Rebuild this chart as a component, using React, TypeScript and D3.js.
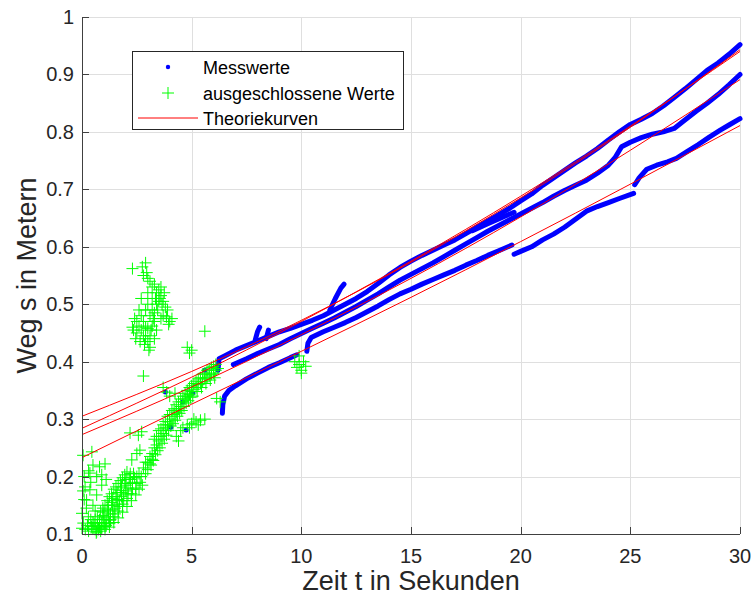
import React from 'react';
import * as d3 from 'd3';

type P = [number, number];

const xTicks = [0, 5, 10, 15, 20, 25, 30];
const xTickLabels = ['0', '5', '10', '15', '20', '25', '30'];
const yTicks = [0.1, 0.2, 0.3, 0.4, 0.5, 0.6, 0.7, 0.8, 0.9, 1];
const yTickLabels = ['0.1', '0.2', '0.3', '0.4', '0.5', '0.6', '0.7', '0.8', '0.9', '1'];

const legendLabels = ['Messwerte', 'ausgeschlossene Werte', 'Theoriekurven'];
const xLabel = 'Zeit t in Sekunden';
const yLabel = 'Weg s in Metern';

// Theory curves (t, s)
const theoryT = [0, 5, 10, 15, 20, 25, 30];
const theoryA = [0.305, 0.383, 0.472, 0.573, 0.685, 0.808, 0.943];
const theoryB = [0.284, 0.373, 0.47, 0.575, 0.688, 0.81, 0.94];
const theoryC = [0.273, 0.356, 0.447, 0.545, 0.652, 0.768, 0.891];
const theoryD = [0.233, 0.326, 0.418, 0.512, 0.609, 0.709, 0.811];

// Measured traces
const messTop: P[] = [[6.2,0.385],[6.25,0.405],[6.5,0.41],[7,0.42],[7.5,0.428],[8,0.436],[8.5,0.444],[9,0.452],[9.5,0.458],[10,0.465],[10.5,0.472],[11,0.48],[11.5,0.49],[12,0.5],[12.5,0.51],[13,0.522],[13.5,0.536],[14,0.551],[14.5,0.564],[15,0.575],[15.5,0.585],[16,0.594],[16.5,0.603],[17,0.612],[17.5,0.623],[18,0.634],[18.5,0.645],[19,0.656],[19.5,0.667],[20,0.68],[20.5,0.692],[21,0.707],[21.5,0.72],[22,0.733],[22.5,0.746],[23,0.758],[23.5,0.771],[24,0.786],[24.5,0.8],[25,0.813],[25.5,0.822],[26,0.832],[26.5,0.845],[27,0.86],[27.5,0.875],[28,0.891],[28.5,0.907],[29,0.92],[29.5,0.935],[30,0.952]];
const messMid: P[] = [[6.9,0.395],[7.5,0.405],[8,0.414],[8.5,0.422],[9,0.43],[9.5,0.44],[10,0.449],[10.5,0.458],[11,0.467],[11.5,0.476],[12,0.486],[12.5,0.496],[13,0.507],[13.5,0.518],[14,0.53],[14.5,0.542],[15,0.552],[15.5,0.562],[16,0.572],[16.5,0.583],[17,0.594],[17.5,0.605],[18,0.616],[18.5,0.627],[19,0.637],[19.5,0.647],[20,0.657],[20.5,0.667],[21,0.677],[21.5,0.688],[22,0.698],[22.5,0.707],[23,0.716],[23.5,0.728],[24,0.742],[24.3,0.755],[24.6,0.774],[25,0.782],[25.5,0.79],[26,0.796],[26.5,0.8],[27,0.806],[27.4,0.818],[28,0.836],[28.5,0.85],[29,0.865],[29.5,0.882],[30,0.9]];
const messLoop: P[] = [[17.8,0.628],[18.5,0.64],[19.2,0.652],[19.7,0.66]];
const messSpur: P[] = [[11.3,0.49],[11.55,0.51],[11.8,0.528],[11.95,0.535]];
const messBlip1: P[] = [[7.9,0.438],[8.0,0.452],[8.1,0.46]];
const messBlip2: P[] = [[8.4,0.44],[8.5,0.455]];
const messBot1: P[] = [[6.4,0.31],[6.42,0.325],[6.5,0.34],[6.7,0.35],[7,0.358],[7.5,0.37],[8,0.38],[8.5,0.39],[9,0.398],[9.5,0.407],[9.8,0.412]];
const messBot2: P[] = [[10.25,0.418],[10.3,0.432],[10.45,0.442],[11,0.452],[11.5,0.46],[12,0.468],[12.5,0.477],[13,0.487],[13.5,0.497],[14,0.508],[14.5,0.518],[15,0.526],[15.5,0.535],[16,0.543],[16.5,0.551],[17,0.559],[17.5,0.568],[18,0.576],[18.5,0.585],[19,0.593],[19.6,0.603]];
const messBot3: P[] = [[19.7,0.587],[20,0.592],[20.5,0.6],[21,0.612],[21.5,0.622],[22,0.634],[22.5,0.648],[23,0.662],[23.5,0.67],[24,0.677],[24.5,0.684],[25.15,0.693]];
const messBot4: P[] = [[25.2,0.708],[25.4,0.72],[25.75,0.735],[26.2,0.742],[26.7,0.748],[27.1,0.754],[27.6,0.766],[28.1,0.778],[28.6,0.791],[29.1,0.803],[29.5,0.812],[30,0.823]];
const messDots: P[] = [[3.8,0.347],[4.75,0.281],[4.05,0.286],[4.6,0.33],[5.05,0.345],[5.6,0.385]];

// Excluded values (green crosses)
const exclCloud: P[] = [[0.05,0.237],[0.45,0.243],[0.1,0.2],[0.3,0.21],[0.5,0.22],[0.8,0.217],[1.05,0.222],[0.36,0.206],[0.67,0.2],[0.9,0.203],[0.14,0.182],[0.36,0.177],[0.67,0.168],[0.21,0.159],[0.0,0.136],[0.29,0.13],[0.06,0.119],[0.44,0.113],[0.67,0.104],[1.05,0.113],[1.28,0.124],[0.1,0.16],[0.2,0.145],[0.5,0.15],[0.0,0.11],[0.15,0.108],[0.6,0.14],[0.9,0.185],[1.1,0.195],[0.4,0.19],[0.05,0.175],[2.19,0.276],[2.57,0.272],[2.72,0.278],[2.64,0.246],[2.27,0.229],[2.5,0.24],[0.25,0.115],[0.4,0.125],[0.55,0.118],[0.75,0.108],[0.9,0.11]];
const exclBand: P[] = [[0.3,0.105],[0.5,0.11],[0.6,0.108],[0.7,0.115],[0.8,0.112],[0.9,0.12],[1.0,0.118],[1.0,0.128],[1.1,0.125],[1.2,0.13],[1.2,0.14],[1.3,0.135],[1.4,0.142],[1.4,0.15],[1.5,0.145],[1.6,0.152],[1.6,0.16],[1.7,0.158],[1.8,0.165],[1.8,0.172],[1.9,0.168],[2.0,0.175],[2.0,0.185],[2.1,0.18],[2.2,0.188],[2.2,0.195],[2.3,0.19],[2.4,0.198],[2.5,0.2],[2.6,0.205],[1.1,0.115],[1.3,0.125],[1.5,0.135],[1.7,0.148],[1.9,0.158],[2.1,0.17],[2.3,0.178],[2.5,0.188],[0.8,0.125],[1.0,0.138],[1.2,0.15],[1.4,0.162],[1.6,0.172],[1.8,0.182],[2.0,0.195],[2.2,0.205],[0.95,0.132],[1.15,0.142],[1.35,0.155],[1.55,0.165],[1.75,0.176],[1.95,0.188],[2.15,0.198],[2.35,0.205],[1.25,0.118],[1.45,0.13],[1.65,0.14],[1.85,0.152],[2.05,0.162],[2.25,0.17],[2.45,0.18],[2.65,0.19],[2.7,0.2],[0.5,0.12],[0.6,0.125],[0.7,0.13],[0.85,0.14],[0.95,0.145],[1.05,0.15],[1.15,0.158],[1.25,0.165],[1.35,0.17],[1.45,0.178],[1.55,0.182],[1.65,0.188],[1.75,0.193],[1.85,0.198],[1.95,0.203],[2.05,0.208],[0.65,0.102],[0.85,0.105],[1.05,0.108],[1.25,0.112],[1.45,0.12],[1.65,0.128],[1.85,0.138],[2.05,0.148],[2.25,0.158],[2.45,0.168],[2.6,0.178],[2.75,0.185],[2.8,0.215],[3.0,0.225],[3.1,0.235],[3.2,0.24],[3.3,0.25],[3.4,0.255],[3.5,0.262],[3.6,0.27],[3.7,0.275],[3.8,0.285],[3.9,0.29],[4.0,0.295],[4.1,0.3],[4.2,0.308],[4.3,0.312],[4.4,0.318],[4.5,0.322],[4.6,0.33],[4.7,0.335],[4.8,0.34],[4.9,0.343],[5.0,0.348],[5.1,0.352],[5.2,0.355],[5.3,0.36],[5.4,0.362],[5.5,0.365],[5.6,0.37],[5.7,0.372],[5.8,0.375],[5.9,0.378],[6.0,0.38],[6.1,0.385],[6.2,0.388],[3.3,0.265],[3.5,0.28],[3.7,0.29],[3.9,0.305],[4.1,0.315],[4.3,0.325],[4.5,0.335],[4.7,0.345],[4.9,0.355],[5.1,0.362],[5.3,0.37],[5.5,0.378],[5.7,0.385],[5.9,0.39],[6.1,0.395],[3.4,0.27],[3.6,0.283],[3.8,0.296],[4.0,0.308],[4.2,0.318],[4.4,0.33],[4.6,0.34],[4.8,0.35],[5.0,0.358],[5.2,0.366],[5.4,0.372],[5.6,0.38],[5.8,0.387],[6.0,0.392],[2.9,0.205],[3.0,0.212],[3.15,0.22],[3.25,0.228],[3.35,0.238],[3.45,0.245],[3.55,0.25],[3.65,0.258],[3.75,0.265],[3.85,0.272],[3.95,0.28],[4.05,0.288],[4.15,0.292],[4.25,0.298],[4.35,0.305],[4.45,0.31],[4.55,0.315],[4.65,0.322],[4.75,0.328],[4.85,0.332],[4.95,0.338],[5.05,0.34],[5.25,0.348],[5.45,0.355],[5.65,0.362],[5.85,0.368],[6.05,0.372],[2.9,0.225],[3.1,0.222],[3.2,0.23],[4.3,0.27],[4.5,0.28],[4.6,0.285],[4.8,0.29],[5.0,0.292],[5.2,0.295],[5.4,0.298],[5.6,0.3],[4.4,0.262],[4.9,0.285],[5.1,0.3],[5.3,0.29],[6.14,0.336],[3.86,0.347],[4.24,0.345],[3.7,0.355],[4.0,0.34]];
const exclUpper: P[] = [[2.3,0.562],[2.9,0.572],[2.8,0.55],[3.0,0.545],[3.3,0.535],[3.5,0.525],[3.6,0.515],[3.7,0.505],[3.8,0.495],[2.7,0.51],[3.0,0.5],[3.2,0.49],[2.5,0.47],[2.3,0.46],[2.5,0.45],[2.8,0.445],[3.0,0.435],[3.1,0.425],[2.9,0.46],[3.3,0.47],[3.6,0.475],[4.0,0.47],[4.1,0.475],[3.4,0.455],[2.7,0.48],[3.2,0.51],[3.6,0.53],[3.9,0.49],[3.1,0.48],[2.6,0.49],[3.3,0.44],[2.8,0.375],[2.4,0.475],[2.6,0.462],[2.8,0.47],[3.0,0.458],[3.2,0.462],[2.9,0.49],[3.4,0.5],[3.5,0.505],[3.4,0.52],[3.7,0.48],[2.7,0.455],[2.9,0.44],[3.1,0.445],[3.3,0.485],[3.0,0.52],[2.35,0.455],[2.45,0.44],[2.65,0.435],[2.85,0.43],[3.05,0.42],[3.15,0.455],[3.25,0.475],[3.45,0.49],[3.55,0.51],[3.65,0.5],[3.75,0.52],[3.35,0.51],[3.2,0.53],[3.1,0.54],[2.95,0.555],[2.75,0.565],[3.85,0.478],[3.95,0.465],[4.8,0.425],[5.0,0.42],[4.9,0.415],[5.6,0.453]];
const exclTen: P[] = [[9.7,0.4],[9.9,0.395],[10.0,0.385],[10.1,0.4],[9.8,0.39],[10.2,0.392],[9.9,0.41],[10.0,0.38],[6.3,0.33]];

const FONT = '"Liberation Sans", Arial, Helvetica, sans-serif';

export default function App() {
  const x = d3.scaleLinear().domain([0, 30]).range([82, 740]);
  const y = d3.scaleLinear().domain([0.1, 1]).range([534, 17]);
  const line = d3.line<P>().x(d => x(d[0])).y(d => y(d[1]));
  const smooth = d3.line<P>().x(d => x(d[0])).y(d => y(d[1])).curve(d3.curveNatural);

  const messTraces = [messTop, messMid, messLoop, messSpur, messBlip1, messBlip2, messBot1, messBot2, messBot3, messBot4];
  const theory = [theoryA, theoryB, theoryC, theoryD].map(v => v.map((s, i) => [theoryT[i], s] as P));
  const excl = [...exclCloud, ...exclBand, ...exclUpper, ...exclTen];

  const [x0, x1] = x.range();
  const [yb, yt] = y.range();
  const cross = (cx: number, cy: number, r = 6) => `M${cx - r},${cy}h${2 * r}M${cx},${cy - r}v${2 * r}`;

  return (
    <svg width={756} height={604} style={{ position: 'absolute', left: 0, top: 0, background: '#fff' }} fontFamily={FONT}>
      <rect x={0} y={0} width={756} height={604} fill="#fff" />
      <g stroke="#dfdfdf" strokeWidth={1}>
        {xTicks.map(t => <line key={'gx' + t} x1={Math.round(x(t)) + 0.5} x2={Math.round(x(t)) + 0.5} y1={yt} y2={yb} />)}
        {yTicks.map(t => <line key={'gy' + t} x1={x0} x2={x1} y1={Math.round(y(t)) + 0.5} y2={Math.round(y(t)) + 0.5} />)}
      </g>
      <g fill="none" stroke="#0000ff" strokeWidth={5} strokeLinecap="round" strokeLinejoin="round">
        {messTraces.map((tr, i) => <path key={'m' + i} d={line(tr) || ''} />)}
      </g>
      <g fill="#0000ff">
        {messDots.map((d, i) => <circle key={'md' + i} cx={x(d[0])} cy={y(d[1])} r={2.5} />)}
      </g>
      <g stroke="#00ff00" strokeWidth={1} fill="none">
        {excl.map((d, i) => <path key={'e' + i} d={cross(x(d[0]), y(d[1]))} />)}
      </g>
      <g fill="none" stroke="#ff0000" strokeWidth={1}>
        {theory.map((tr, i) => <path key={'t' + i} d={smooth(tr) || ''} />)}
      </g>
      <g stroke="#404040" strokeWidth={1}>
        <line x1={x0 + 0.5} x2={x0 + 0.5} y1={yt} y2={yb + 0.5} />
        <line x1={x0} x2={x1} y1={yb + 0.5} y2={yb + 0.5} />
        {xTicks.map(t => <line key={'tx' + t} x1={Math.round(x(t)) + 0.5} x2={Math.round(x(t)) + 0.5} y1={yb} y2={yb - 7} />)}
        {yTicks.map(t => <line key={'ty' + t} x1={x0} x2={x0 + 7} y1={Math.round(y(t)) + 0.5} y2={Math.round(y(t)) + 0.5} />)}
      </g>
      <g fill="#262626" fontSize={20}>
        {xTicks.map((t, i) => <text key={'lx' + t} x={x(t)} y={563} textAnchor="middle">{xTickLabels[i]}</text>)}
        {yTicks.map((t, i) => <text key={'ly' + t} x={74} y={y(t) + 7} textAnchor="end">{yTickLabels[i]}</text>)}
      </g>
      <text x={(x0 + x1) / 2} y={590} textAnchor="middle" fontSize={27} fill="#262626">{xLabel}</text>
      <text transform={`translate(36,${(yt + yb) / 2}) rotate(-90)`} textAnchor="middle" fontSize={27} fill="#262626">{yLabel}</text>
      <g>
        <rect x={132.5} y={51.5} width={271} height={78} fill="#fff" stroke="#262626" strokeWidth={1} />
        <circle cx={168} cy={67} r={2.2} fill="#0000ff" />
        <path d={cross(168, 93)} stroke="#00ff00" strokeWidth={1} />
        <line x1={138} x2={198} y1={118} y2={118} stroke="#ff0000" strokeWidth={1} />
        <g fontSize={18} fill="#000">
          {legendLabels.map((l, i) => <text key={l} x={203} y={74 + i * 25.5}>{l}</text>)}
        </g>
      </g>
    </svg>
  );
}
